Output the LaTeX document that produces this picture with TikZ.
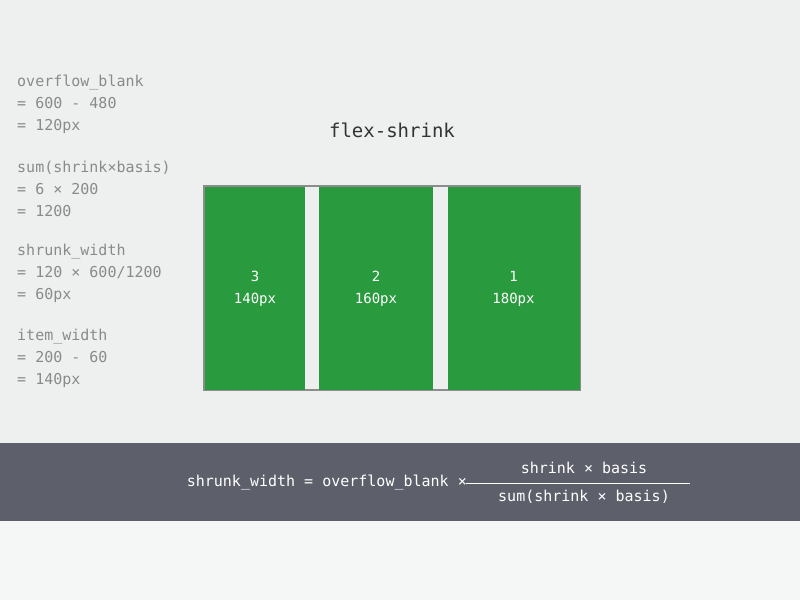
\documentclass[tikz,border=0pt]{standalone}
\usepackage{fontspec}
\setmonofont{DejaVu Sans Mono}
\usetikzlibrary{positioning}
\definecolor{bgcol}{HTML}{EEF0F0}
\definecolor{bandcol}{HTML}{5D606B}
\definecolor{itemcol}{HTML}{2A9A3E}
\definecolor{textcol}{HTML}{8A8A8A}
\tikzset{
  note/.style={anchor=west,inner sep=0pt,text=textcol,font=\ttfamily\fontsize{15}{22}\selectfont,align=left},
  item/.style={fill=itemcol,inner sep=0pt,text=white,font=\ttfamily\fontsize{14}{22}\selectfont,align=center},
  formula/.style={text=white,inner sep=0pt,font=\ttfamily\fontsize{15}{18}\selectfont}
}
\begin{document}
\begin{tikzpicture}[x=1pt,y=-1pt]
  % Hintergrund
  \fill[bgcol] (0,0) rectangle (800,600);
  \fill[bandcol] (0,443) rectangle (800,521);
  \fill[white!40!bgcol] (0,521) rectangle (800,600);

  % Rechnung links
  \node[note] (blank) at (17,104) {overflow\_blank\\ = 600 - 480\\ = 120px};
  \node[note] (sum) at (17,189) {sum(shrink×basis)\\ = 6 × 200\\ = 1200};
  \node[note] (shrunk) at (17,273) {shrunk\_width\\ = 120 × 600/1200\\ = 60px};
  \node[note] (iw) at (17,358) {item\_width\\ = 200 - 60\\ = 140px};

  % Titel
  \node[text=black!80,font=\ttfamily\fontsize{19}{22}\selectfont] (title) at (392,130) {flex-shrink};

  % Container und Items
  \draw[black!45,line width=2pt,fill=bgcol] (204,186) rectangle (580,390);
  \node[item,minimum width=100,minimum height=203] (c) at (255,288.5) {3\\140px};
  \node[item,minimum width=114,minimum height=203] (b) at (376,288.5) {2\\160px};
  \node[item,minimum width=132,minimum height=203] (a) at (513.5,288.5) {1\\180px};

  % Formel
  \node[formula,anchor=east] (lhs) at (467,483) {shrunk\_width = overflow\_blank ×};
  \node[formula] (num) at (584,468) {shrink × basis};
  \node[formula] (den) at (584,497) {sum(shrink × basis)};
  \draw[white,line width=0.8pt] (466,483) -- (690,483);
\end{tikzpicture}
\end{document}
